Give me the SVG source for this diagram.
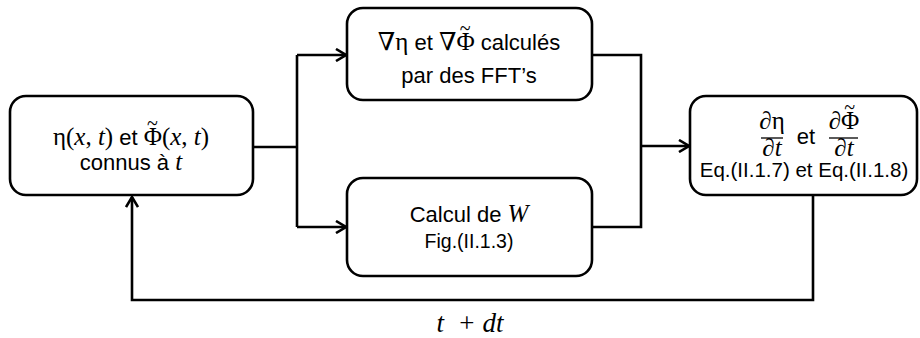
<svg xmlns="http://www.w3.org/2000/svg" width="920" height="338" viewBox="0 0 920 338">
<style>
.box{fill:#fff;stroke:#000;stroke-width:2.6}
.ln{fill:none;stroke:#000;stroke-width:2.6}
.t{font-family:"Liberation Sans",Arial,sans-serif;font-size:22px;fill:#000;text-anchor:middle}
.r{font-family:"Liberation Sans",Arial,sans-serif;font-size:19.5px;fill:#000;text-anchor:middle}
.m{font-family:"Liberation Serif","DejaVu Serif",serif;font-size:25px}
.i{font-family:"Liberation Serif","DejaVu Serif",serif;font-style:italic;font-size:25px}
.tl{font-family:"Liberation Serif","DejaVu Serif",serif;font-size:20px}
</style>
<defs>
<marker id="arr" viewBox="0 0 12 14" refX="11" refY="7" markerWidth="12" markerHeight="14" markerUnits="userSpaceOnUse" orient="auto">
<path d="M1,1 L11,7 L1,13" fill="none" stroke="#000" stroke-width="2.6"/>
</marker>
</defs>
<rect width="920" height="338" fill="#fff"/>
<g id="connectors">
<path class="ln" d="M253,147 H297"/>
<path class="ln" d="M297,55 V227"/>
<path class="ln" d="M297,55 H346" marker-end="url(#arr)"/>
<path class="ln" d="M297,227 H346" marker-end="url(#arr)"/>
<path class="ln" d="M592,55 H641 V227 H592"/>
<path class="ln" d="M641,146 H689" marker-end="url(#arr)"/>
<path class="ln" d="M813,195 V300 H132 V197" marker-end="url(#arr)"/>
</g>
<g id="node-init">
<rect class="box" x="10" y="96" width="243" height="99" rx="16"/>
<text class="t" x="131" y="145"><tspan class="m">η(</tspan><tspan class="i">x</tspan><tspan class="m">, </tspan><tspan class="i">t</tspan><tspan class="m">)</tspan> et <tspan class="m">Φ</tspan><tspan class="tl" dx="-15" dy="-15">~</tspan><tspan class="m" dx="4" dy="15">(</tspan><tspan class="i">x</tspan><tspan class="m">, </tspan><tspan class="i">t</tspan><tspan class="m">)</tspan></text>
<text class="t" x="131" y="170">connus à <tspan class="i">t</tspan></text>
</g>
<g id="node-fft">
<rect class="box" x="347" y="8" width="245" height="92" rx="16"/>
<text class="t" x="469" y="50"><tspan class="i">∇</tspan><tspan class="m">η</tspan> et <tspan class="i">∇</tspan><tspan class="m">Φ</tspan><tspan class="tl" dx="-15" dy="-15">~</tspan><tspan dx="4" dy="15"> calculés</tspan></text>
<text class="t" x="469" y="83">par des FFT’s</text>
</g>
<g id="node-w">
<rect class="box" x="347" y="178" width="245" height="98" rx="16"/>
<text class="t" x="469" y="222">Calcul de <tspan class="i">W</tspan></text>
<text class="r" x="469" y="248">Fig.(II.1.3)</text>
</g>
<g id="node-deriv">
<rect class="box" x="690" y="96" width="227" height="99" rx="16"/>
<text class="t" x="772" y="129"><tspan class="i">∂</tspan><tspan class="m">η</tspan></text>
<line x1="761" y1="138" x2="783" y2="138" stroke="#000" stroke-width="1.3"/>
<text class="t" x="772" y="156"><tspan class="i">∂t</tspan></text>
<text class="t" x="806" y="144">et</text>
<text class="t" x="844" y="129"><tspan class="i">∂</tspan><tspan class="m">Φ</tspan><tspan class="tl" dx="-15" dy="-15">~</tspan><tspan dx="4" dy="15"></tspan></text>
<line x1="829" y1="138" x2="858" y2="138" stroke="#000" stroke-width="1.3"/>
<text class="t" x="844" y="156"><tspan class="i">∂t</tspan></text>
<text class="r" x="804" y="177" style="font-size:20.5px">Eq.(II.1.7) et Eq.(II.1.8)</text>
</g>
<text class="i" x="470" y="332" style="font-size:27px" text-anchor="middle" xml:space="preserve">t  + dt</text>
</svg>
